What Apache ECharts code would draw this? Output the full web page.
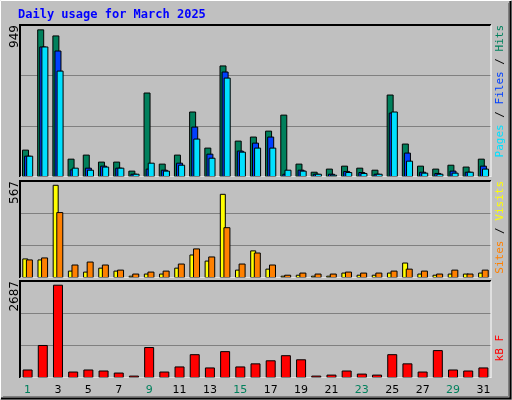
<!DOCTYPE html><html><head><meta charset="utf-8">
<script src="https://cdn.jsdelivr.net/npm/echarts@6/dist/echarts.min.js"></script>
<style>html,body{margin:0;padding:0;background:#c0c0c0}#c{width:512px;height:400px}</style></head><body><div id="c"></div>
<script>
const days=['1','2','3','4','5','6','7','8','9','10','11','12','13','14','15','16','17','18','19','20','21','22','23','24','25','26','27','28','29','30','31'];
const weekend=['1','2','8','9','15','16','22','23','29','30'];
const hits=[176,949,910,118,144,99,99,41,543,86,144,421,189,717,234,260,298,401,86,34,54,73,60,47,530,215,73,54,79,67,118];
const files=[137,839,813,49,60,73,60,21,54,47,92,324,150,678,170,221,260,21,47,21,21,39,32,21,414,157,34,26,41,34,73];
const pages=[137,839,684,60,47,67,60,21,92,41,79,247,124,639,163,189,189,47,41,21,15,32,26,21,421,105,28,21,28,34,54];
const visits=[119,113,567,45,39,63,45,14,27,27,63,143,106,512,51,168,57,14,20,14,14,33,20,20,33,94,27,20,27,27,33];
const sites=[113,125,401,82,100,82,51,27,39,45,88,180,131,309,88,155,82,20,33,27,27,39,33,33,45,57,45,27,51,27,51];
const kbytes=[245,951,2687,186,245,216,157,69,892,186,333,686,304,774,333,422,510,657,539,69,98,216,127,98,686,422,186,804,245,216,304];
const maxLabels=['949','567','2687'];
const title='Daily usage for March 2025';
const ch=echarts.init(document.getElementById('c'));
const grids=[{left:20,right:21,top:25,height:152},{left:20,right:21,top:181,height:97},{left:20,right:21,top:281,height:97}];
const axMax=[977,590,2794];
const bs={borderColor:'#000',borderWidth:1};
function yA(i){return {gridIndex:i,min:0,max:axMax[i],interval:axMax[i]/3,axisLabel:{show:false},axisLine:{show:false},axisTick:{show:false},splitLine:{lineStyle:{color:'#808080',width:1}}};}
function xA(i){return {gridIndex:i,type:'category',data:days,axisLine:{show:false},axisTick:{show:false},
 axisLabel:{show:i===2,fontFamily:'DejaVu Sans',fontSize:11,margin:7,color:(v)=>weekend.includes(v)?'#00805c':'#000'}};}
function frame(g){const x0=g.left,y0=g.top,x1=512-g.right,y1=g.top+g.height;
 return [{type:'polyline',shape:{points:[[x0,y1],[x0,y0],[x1,y0]]},style:{stroke:'#000',fill:null,lineWidth:2},z:100},
 {type:'polyline',shape:{points:[[x1,y0],[x1,y1],[x0,y1]]},style:{stroke:'#fff',fill:null,lineWidth:1},z:100}];}
const gr=[
 {type:'rect',shape:{x:0.5,y:0.5,width:510,height:398},style:{stroke:'#fff',fill:null,lineWidth:1}},
 {type:'polyline',shape:{points:[[1,398.5],[510.5,398.5],[510.5,1]]},style:{stroke:'#000',fill:null,lineWidth:2}},
 {type:'polyline',shape:{points:[[3,396.5],[508.5,396.5],[508.5,3]]},style:{stroke:'#808080',fill:null,lineWidth:1}},
 {type:'text',left:18,top:9,style:{text:title,fill:'#0000ff',font:'bold 12px "DejaVu Sans Mono"'}},
 ...frame(grids[0]),...frame(grids[1]),...frame(grids[2]),
 {type:'text',x:9,y:25,rotation:Math.PI/2,style:{text:maxLabels[0],fill:'#000',font:'12px "DejaVu Sans"',align:'right',verticalAlign:'top'}},
 {type:'text',x:9,y:181,rotation:Math.PI/2,style:{text:maxLabels[1],fill:'#000',font:'12px "DejaVu Sans"',align:'right',verticalAlign:'top'}},
 {type:'text',x:9,y:281,rotation:Math.PI/2,style:{text:maxLabels[2],fill:'#000',font:'12px "DejaVu Sans"',align:'right',verticalAlign:'top'}},
 {type:'text',x:495,y:25,rotation:Math.PI/2,style:{text:'{p|Pages} {s|/} {f|Files} {s|/} {h|Hits}',align:'right',verticalAlign:'top',font:'11px "DejaVu Sans Mono"',
   rich:{p:{fill:'#00e0ff',font:'11px "DejaVu Sans Mono"'},f:{fill:'#0040ff',font:'11px "DejaVu Sans Mono"'},h:{fill:'#00805c',font:'11px "DejaVu Sans Mono"'},s:{fill:'#000',font:'11px "DejaVu Sans Mono"'}}}},
 {type:'text',x:495,y:181,rotation:Math.PI/2,style:{text:'{o|Sites} {s|/} {y|Visits}',align:'right',verticalAlign:'top',font:'11px "DejaVu Sans Mono"',
   rich:{o:{fill:'#ff8000',font:'11px "DejaVu Sans Mono"'},y:{fill:'#ffff00',font:'11px "DejaVu Sans Mono"'},s:{fill:'#000',font:'11px "DejaVu Sans Mono"'}}}},
 {type:'text',x:495,y:335,rotation:Math.PI/2,style:{text:'kB F',align:'right',verticalAlign:'top',fill:'#ff0000',font:'11px "DejaVu Sans Mono"'}}
];
ch.setOption({animation:false,backgroundColor:'#c0c0c0',grid:grids,
 xAxis:[xA(0),xA(1),xA(2)],yAxis:[yA(0),yA(1),yA(2)],
 series:[
  {type:'bar',xAxisIndex:0,yAxisIndex:0,data:hits,barWidth:7,barGap:'-70%',itemStyle:{color:'#00805c',...bs}},
  {type:'bar',xAxisIndex:0,yAxisIndex:0,data:files,barWidth:7,barGap:'-70%',itemStyle:{color:'#0040ff',...bs}},
  {type:'bar',xAxisIndex:0,yAxisIndex:0,data:pages,barWidth:7,barGap:'-70%',itemStyle:{color:'#00e0ff',...bs}},
  {type:'bar',xAxisIndex:1,yAxisIndex:1,data:visits,barWidth:6,barGap:'-40%',itemStyle:{color:'#ffff00',...bs}},
  {type:'bar',xAxisIndex:1,yAxisIndex:1,data:sites,barWidth:7,barGap:'-40%',itemStyle:{color:'#ff8000',...bs}},
  {type:'bar',xAxisIndex:2,yAxisIndex:2,data:kbytes,barWidth:10,itemStyle:{color:'#ff0000',...bs}}
 ],graphic:gr});
</script></body></html>
